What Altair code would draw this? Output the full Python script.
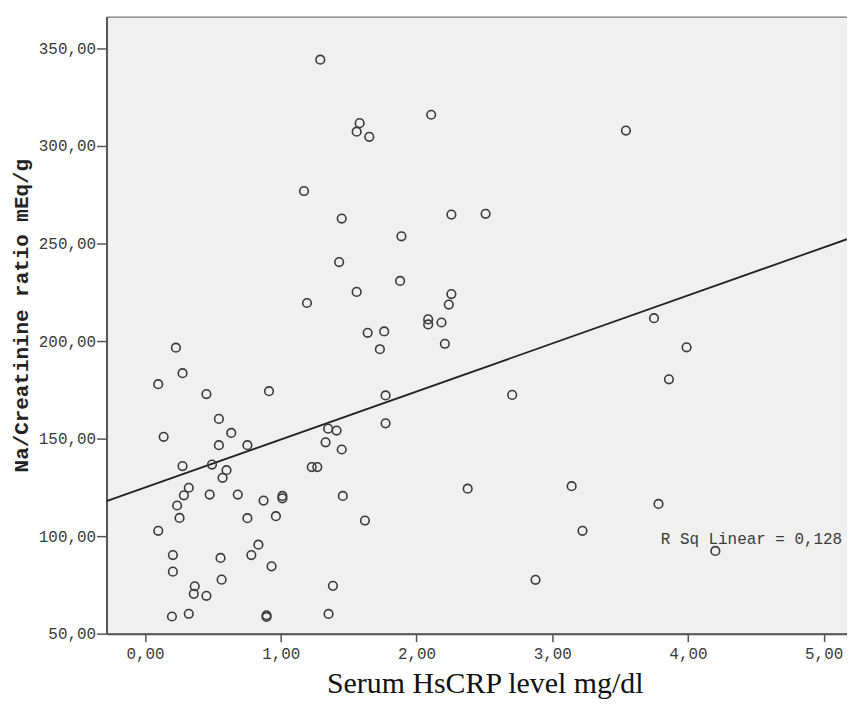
import altair as alt
import pandas as pd

# Serum HsCRP (mg/dl) values
crp = [1.291, 2.108, 1.581, 1.559, 1.652, 1.171, 1.449, 2.257, 2.509, 1.889,
       1.430, 1.879, 1.559, 1.193, 2.257, 2.238, 2.086, 2.086, 2.184, 1.640,
       1.762, 1.730, 2.209, 1.772, 2.705, 1.772, 1.620, 2.377, 2.877,
       0.227, 0.276, 0.097, 0.452, 0.913, 0.544, 0.635, 0.137, 0.544, 0.754,
       1.349, 1.411, 1.330, 1.449, 0.276, 0.493, 0.600, 0.571, 1.228, 1.269,
       0.322, 0.286, 0.476, 0.683, 0.236, 1.012, 1.012, 0.873, 1.457, 0.254,
       0.754, 0.964, 0.097, 0.835, 0.783, 0.205, 0.556, 0.932, 0.205, 0.564,
       0.366, 0.359, 0.452, 1.384, 0.198, 0.322, 0.895, 0.895, 1.352,
       3.543, 3.750, 3.990, 3.860, 3.143, 3.783, 3.223, 4.202]

# Na/Creatinine ratio (mEq/g) values
ratio = [344.2, 316.0, 311.7, 307.3, 304.7, 276.9, 262.8, 264.8, 265.2, 253.7,
         240.5, 230.8, 225.2, 219.5, 224.1, 218.7, 211.1, 208.5, 209.5, 204.2,
         204.9, 195.8, 198.6, 172.1, 172.4, 157.8, 108.0, 124.3, 77.6,
         196.6, 183.5, 177.9, 172.8, 174.3, 160.1, 152.9, 150.9, 146.6, 146.6,
         155.1, 154.1, 148.1, 144.4, 135.9, 136.7, 133.8, 129.9, 135.4, 135.4,
         124.8, 120.9, 121.3, 121.3, 115.7, 120.6, 119.4, 118.2, 120.6, 109.3,
         109.2, 110.2, 102.7, 95.6, 90.3, 90.3, 88.8, 84.5, 81.8, 77.7,
         74.3, 70.4, 69.4, 74.5, 58.8, 60.2, 59.4, 58.6, 60.1,
         307.9, 211.7, 196.8, 180.4, 125.6, 116.5, 102.7, 92.4]

# fitted linear line (end points)
reg_x = [-0.284, 5.172]
reg_y = [117.9, 252.2]

x_ticks = [0, 1, 2, 3, 4, 5]
y_ticks = [50, 100, 150, 200, 250, 300, 350]

r2_text = ["R Sq Linear = 0,128"]
r2_x = [3.80]
r2_y = [95.9]

pts = pd.DataFrame({"crp": crp, "ratio": ratio})
reg = pd.DataFrame({"crp": reg_x, "ratio": reg_y})
lab = pd.DataFrame({"crp": r2_x, "ratio": r2_y, "t": r2_text})

xs = alt.Scale(domain=[-0.284, 5.172], nice=False, zero=False)
ys = alt.Scale(domain=[50, 366.3], nice=False, zero=False)

fmt = "replace(format(datum.value, '.2f'), '.', ',')"

x_axis = alt.Axis(
    values=x_ticks, labelExpr=fmt, grid=False,
    title="Serum HsCRP level mg/dl",
    tickSize=8, tickWidth=1.5, tickColor="#555",
    domainColor="#555", domainWidth=2,
    labelPadding=4, labelFont="Liberation Mono", labelFontSize=16, labelColor="#3a3a3a",
    titleFont="Liberation Serif", titleFontSize=30, titleFontWeight="normal",
    titleColor="#111", titleX=380, titleY=59, titleBaseline="alphabetic",
    titleAlign="center",
)
y_axis = alt.Axis(
    values=y_ticks, labelExpr=fmt, grid=False,
    title="Na/Creatinine ratio mEq/g",
    tickSize=10, tickWidth=1.5, tickColor="#555",
    domainColor="#555", domainWidth=2,
    labelPadding=1, labelFont="Liberation Mono", labelFontSize=16, labelColor="#3a3a3a",
    titleFont="Liberation Mono", titleFontSize=21, titleFontWeight="bold",
    titleColor="#222", titleX=-85, titleY=300, titleAngle=270,
    titleBaseline="middle", titleAlign="center",
)

points = alt.Chart(pts).mark_point(
    shape="circle", filled=False, size=75, strokeWidth=1.6, color="#3a3a3a", opacity=1
).encode(
    x=alt.X("crp:Q", scale=xs, axis=x_axis),
    y=alt.Y("ratio:Q", scale=ys, axis=y_axis),
)

line = alt.Chart(reg).mark_line(color="#222", strokeWidth=1.8, clip=True).encode(
    x=alt.X("crp:Q", scale=xs),
    y=alt.Y("ratio:Q", scale=ys),
)

text = alt.Chart(lab).mark_text(
    align="left", baseline="alphabetic", font="Liberation Mono", fontSize=16, color="#3a3a3a"
).encode(
    x=alt.X("crp:Q", scale=xs),
    y=alt.Y("ratio:Q", scale=ys),
    text="t:N",
)

chart = alt.layer(line, points, text).properties(
    width=744, height=620,
    autosize=alt.AutoSizeParams(type="none"),
    padding={"left": 99, "top": 7, "right": 0, "bottom": 65},
    background="white",
).configure_view(fill="#f0f0f0", stroke="#555", strokeWidth=1)

chart.save("out.html", embed_options={"renderer": "svg", "actions": False})
